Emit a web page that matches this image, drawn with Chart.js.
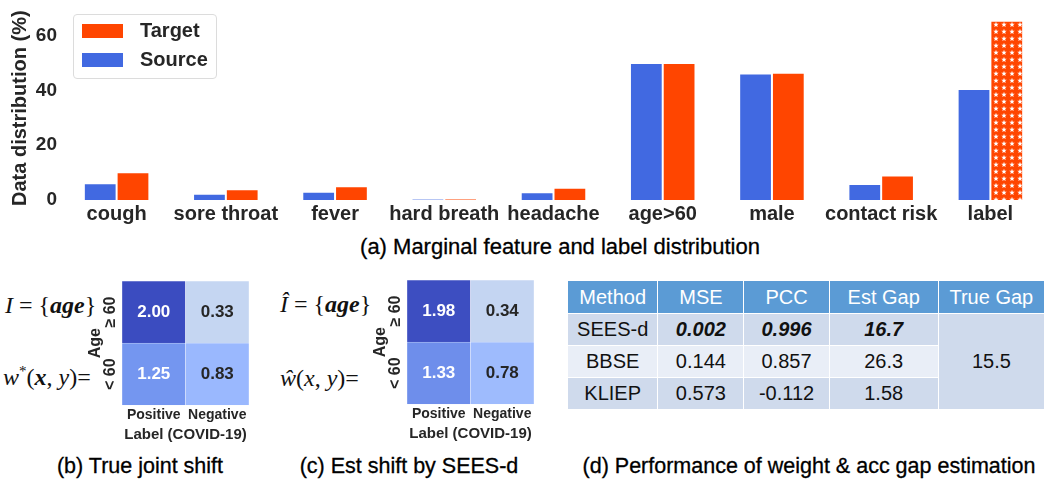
<!DOCTYPE html>
<html>
<head>
<meta charset="utf-8">
<script src="https://cdn.jsdelivr.net/npm/chart.js@4.4.0/dist/chart.umd.min.js"></script>
<style>
    body { margin: 0; width: 1045px; height: 479px; background: #fff; position: relative; overflow: hidden; font-family: "Liberation Sans", Arial, sans-serif; }
    .box { position: absolute; }
    .caption { position: absolute; font-size: 21.5px; color: #000; text-align: center; white-space: nowrap; transform: translate(-50%, -50%); -webkit-text-stroke: 0.3px #000; }
    .math { position: absolute; font-family: "Liberation Serif", "DejaVu Serif", serif; font-size: 24px; color: #111; white-space: nowrap; transform: translateY(-50%); }
    .math b { font-weight: bold; }
    #legend { position: absolute; left: 73px; top: 14px; width: 144px; height: 65px; border: 1px solid #dcdcdc; border-radius: 4px; background: rgba(255,255,255,0.8); box-sizing: border-box; }
    .legend-item { position: absolute; left: 8px; height: 15px; display: flex; align-items: center; }
    .legend-patch { width: 41px; height: 14px; }
    .legend-text { margin-left: 17px; font-weight: bold; font-size: 20px; color: #262626; }
    table { position: absolute; left: 567px; top: 280px; width: 478px; border-collapse: collapse; font-size: 20px; color: #111; }
    td, th { border: 1.5px solid #fff; text-align: center; padding: 0; font-weight: normal; }
    th { background: #5b9bd5; color: #fff; height: 32px; }
    td { height: 31px; }
    .dark { background: #cfdaec; }
    .light { background: #e9eef7; }
    .best { font-weight: bold; font-style: italic; }
</style>
</head>
<body>
<div class="box" style="left:0; top:0; width:1045px; height:228px;"><canvas id="barChart"></canvas></div>
<div id="legend"></div>
<div class="caption" style="left:560px; top:247px; font-size:22px;">(a) Marginal feature and label distribution</div>

<div class="math" style="left:5px; top:305px;"><i>I</i> = {<b><i>age</i></b>}</div>
<div class="math" style="left:3px; top:377px;"><i>w</i><sup style="font-size:15px">*</sup>(<b><i>x</i></b>, <i>y</i>)=</div>
<div class="box" style="left:80px; top:270px; width:180px; height:174px;"><canvas id="trueChart"></canvas></div>
<div class="caption" style="left:140px; top:466px;">(b) True joint shift</div>

<div class="math" style="left:280px; top:304px;"><i>Î</i> = {<b><i>age</i></b>}</div>
<div class="math" style="left:280px; top:378px;"><i>ŵ</i>(<i>x</i>, <i>y</i>)=</div>
<div class="box" style="left:365px; top:269px; width:180px; height:174px;"><canvas id="estChart"></canvas></div>
<div class="caption" style="left:409px; top:466px;">(c) Est shift by SEES-d</div>

<table id="perfTable"></table>
<div class="caption" style="left:809px; top:466px;">(d) Performance of weight &amp; acc gap estimation</div>

<script>
// Data (a)
const categories = ['cough', 'sore throat', 'fever', 'hard breath', 'headache', 'age>60', 'male', 'contact risk', 'label'];
const sourceValues = [6.1, 2.3, 3.0, 0.3, 2.8, 50.0, 46.2, 5.8, 40.5];
const targetValues = [10.1, 3.9, 5.0, 0.4, 4.5, 50.0, 46.4, 8.9, 65.4];
const yTicks = [0, 20, 40, 60];

// Data (b), (c)
const colLabels = ['Positive', 'Negative'];
const rowLabels = ['≥ 60', '< 60'];
const trueHigh = [2.00, 0.33];
const trueLow = [1.25, 0.83];
const estHigh = [1.98, 0.34];
const estLow = [1.33, 0.78];

// Data (d)
const tableHeader = ['Method', 'MSE', 'PCC', 'Est Gap', 'True Gap'];
const methods = ['SEES-d', 'BBSE', 'KLIEP'];
const mseValues = ['0.002', '0.144', '0.573'];
const pccValues = ['0.996', '0.857', '-0.112'];
const estGapValues = ['16.7', '26.3', '1.58'];
const trueGap = '15.5';

const SOURCE_COLOR = '#4169e1';
const TARGET_COLOR = '#ff4500';
const TEXT_COLOR = '#262626';

// Star hatch for the target label bar
function makeStarPattern() {
    const c = document.createElement('canvas');
    c.width = 8;
    c.height = 7;
    const g = c.getContext('2d');
    g.fillStyle = TARGET_COLOR;
    g.fillRect(0, 0, 8, 7);
    g.fillStyle = '#fff';
    g.beginPath();
    for (let i = 0; i < 10; i++) {
        const r = i % 2 === 0 ? 2.9 : 1.2;
        const a = -Math.PI / 2 + i * Math.PI / 5;
        g.lineTo(4 + r * Math.cos(a), 3.7 + r * Math.sin(a));
    }
    g.closePath();
    g.fill();
    return g.createPattern(c, 'repeat');
}

const starPattern = makeStarPattern();
const targetColors = categories.map(c => c === 'label' ? starPattern : TARGET_COLOR);

const barChart = new Chart(document.getElementById('barChart'), {
    type: 'bar',
    data: {
        labels: categories,
        datasets: [
            {
                label: 'Source',
                data: sourceValues,
                backgroundColor: SOURCE_COLOR,
                borderColor: 'rgba(255,255,255,0.45)',
                borderWidth: 1,
                categoryPercentage: 0.6,
                barPercentage: 1
            },
            {
                label: 'Target',
                data: targetValues,
                backgroundColor: targetColors,
                borderColor: 'rgba(255,255,255,0.45)',
                borderWidth: 1,
                categoryPercentage: 0.6,
                barPercentage: 1
            }
        ]
    },
    options: {
        responsive: true,
        maintainAspectRatio: false,
        animation: false,
        layout: { padding: { top: 14, right: 0, left: 0, bottom: 0 } },
        plugins: { legend: { display: false }, tooltip: { enabled: false } },
        scales: {
            x: {
                grid: { display: false, drawTicks: false },
                border: { display: false },
                ticks: {
                    color: TEXT_COLOR,
                    font: { family: 'Liberation Sans', size: 20, weight: 'bold' },
                    padding: 2,
                    maxRotation: 0,
                    autoSkip: false
                },
                afterFit: function (scale) { scale.height = 28; }
            },
            y: {
                min: 0,
                max: 67,
                grid: { display: false, drawTicks: false },
                border: { display: false },
                afterBuildTicks: function (scale) {
                    scale.ticks = yTicks.map(v => ({ value: v }));
                },
                ticks: {
                    color: TEXT_COLOR,
                    font: { family: 'Liberation Sans', size: 19, weight: 'bold' },
                    padding: 5
                },
                title: {
                    display: true,
                    text: 'Data distribution (%)',
                    color: TEXT_COLOR,
                    font: { family: 'Liberation Sans', size: 20, weight: 'bold' },
                    padding: { top: 8, bottom: 0 }
                },
                afterFit: function (scale) { scale.width = 62; }
            }
        }
    }
});

// HTML legend, reversed like the original
function buildLegend() {
    const legend = document.getElementById('legend');
    const items = [
        { label: barChart.data.datasets[1].label, color: TARGET_COLOR },
        { label: barChart.data.datasets[0].label, color: SOURCE_COLOR }
    ];
    items.forEach((item, i) => {
        const row = document.createElement('div');
        row.className = 'legend-item';
        row.style.top = (8 + i * 29) + 'px';
        row.innerHTML = `<div class="legend-patch" style="background:${item.color}"></div><span class="legend-text">${item.label}</span>`;
        legend.appendChild(row);
    });
}
buildLegend();

// Heatmaps
function heatColor(v) {
    // approximate coolwarm segment used by the figure
    const stops = [
        [0.33, [197, 214, 242]],
        [0.83, [154, 184, 254]],
        [1.25, [116, 150, 240]],
        [2.00, [59, 76, 192]]
    ];
    if (v <= stops[0][0]) return `rgb(${stops[0][1].join(',')})`;
    for (let i = 1; i < stops.length; i++) {
        if (v <= stops[i][0]) {
            const t = (v - stops[i - 1][0]) / (stops[i][0] - stops[i - 1][0]);
            const c = stops[i - 1][1].map((a, k) => Math.round(a + (stops[i][1][k] - a) * t));
            return `rgb(${c.join(',')})`;
        }
    }
    return `rgb(${stops[stops.length - 1][1].join(',')})`;
}

const cellLabels = {
    id: 'cellLabels',
    afterDatasetsDraw(chart) {
        const ctx = chart.ctx;
        ctx.save();
        ctx.font = 'bold 17px "Liberation Sans"';
        ctx.textAlign = 'center';
        ctx.textBaseline = 'middle';
        chart.data.datasets.forEach((ds, di) => {
            chart.getDatasetMeta(di).data.forEach((bar, i) => {
                const v = ds.weights[i];
                ctx.fillStyle = v > 1 ? '#fff' : TEXT_COLOR;
                ctx.fillText(v.toFixed(2), bar.x, (bar.y + bar.base) / 2);
            });
        });
        ctx.restore();
    }
};

const rowAxis = {
    id: 'rowAxis',
    afterDraw(chart) {
        const ctx = chart.ctx;
        const y = chart.scales.y;
        const left = chart.chartArea.left;
        ctx.save();
        ctx.fillStyle = TEXT_COLOR;
        ctx.textAlign = 'center';
        ctx.textBaseline = 'middle';
        ctx.font = 'bold 16px "Liberation Sans"';
        // top row first
        [1.5, 0.5].forEach((pos, i) => {
            ctx.save();
            ctx.translate(left - 11, y.getPixelForValue(pos));
            ctx.rotate(-Math.PI / 2);
            ctx.fillText(rowLabels[i], 0, 0);
            ctx.restore();
        });
        ctx.translate(left - 26, y.getPixelForValue(1));
        ctx.rotate(-Math.PI / 2);
        ctx.fillText('Age', 0, 0);
        ctx.restore();
    }
};

function makeHeatmap(id, high, low) {
    return new Chart(document.getElementById(id), {
        type: 'bar',
        data: {
            labels: colLabels,
            datasets: [
                {
                    label: rowLabels[1],
                    data: low.map(() => 1),
                    weights: low,
                    backgroundColor: low.map(heatColor),
                    borderColor: 'rgba(255,255,255,0.3)',
                    borderWidth: 0.5,
                    categoryPercentage: 1,
                    barPercentage: 1
                },
                {
                    label: rowLabels[0],
                    data: high.map(() => 1),
                    weights: high,
                    backgroundColor: high.map(heatColor),
                    borderColor: 'rgba(255,255,255,0.3)',
                    borderWidth: 0.5,
                    categoryPercentage: 1,
                    barPercentage: 1
                }
            ]
        },
        options: {
            responsive: true,
            maintainAspectRatio: false,
            animation: false,
            layout: { padding: { top: 11, right: 11, left: 0, bottom: 0 } },
            plugins: { legend: { display: false }, tooltip: { enabled: false } },
            scales: {
                x: {
                    stacked: true,
                    grid: { display: false, drawTicks: false },
                    border: { display: false },
                    ticks: {
                        color: TEXT_COLOR,
                        font: { family: 'Liberation Sans', size: 14, weight: 'bold' },
                        padding: 2,
                        maxRotation: 0,
                        autoSkip: false
                    },
                    title: {
                        display: true,
                        text: 'Label (COVID-19)',
                        color: TEXT_COLOR,
                        font: { family: 'Liberation Sans', size: 15, weight: 'bold' },
                        padding: 0
                    }
                },
                y: {
                    stacked: true,
                    min: 0,
                    max: 2,
                    grid: { display: false, drawTicks: false },
                    border: { display: false },
                    ticks: { display: false },
                    afterFit: function (scale) { scale.width = 42; }
                }
            }
        },
        plugins: [cellLabels, rowAxis]
    });
}

makeHeatmap('trueChart', trueHigh, trueLow);
makeHeatmap('estChart', estHigh, estLow);

// Table (d)
function buildTable() {
    const table = document.getElementById('perfTable');
    const widths = [90, 86, 85, 110, 107];
    let html = '<tr>' + tableHeader.map((h, i) => `<th style="width:${widths[i]}px">${h}</th>`).join('') + '</tr>';
    methods.forEach((m, i) => {
        const cls = i === 1 ? 'light' : 'dark';
        const best = i === 0 ? ' best' : '';
        html += `<tr><td class="${cls}">${m}</td>`;
        html += `<td class="${cls}${best}">${mseValues[i]}</td>`;
        html += `<td class="${cls}${best}">${pccValues[i]}</td>`;
        html += `<td class="${cls}${best}">${estGapValues[i]}</td>`;
        if (i === 0) {
            html += `<td class="dark" rowspan="${methods.length}">${trueGap}</td>`;
        }
        html += '</tr>';
    });
    table.innerHTML = html;
}
buildTable();
</script>
</body>
</html>
